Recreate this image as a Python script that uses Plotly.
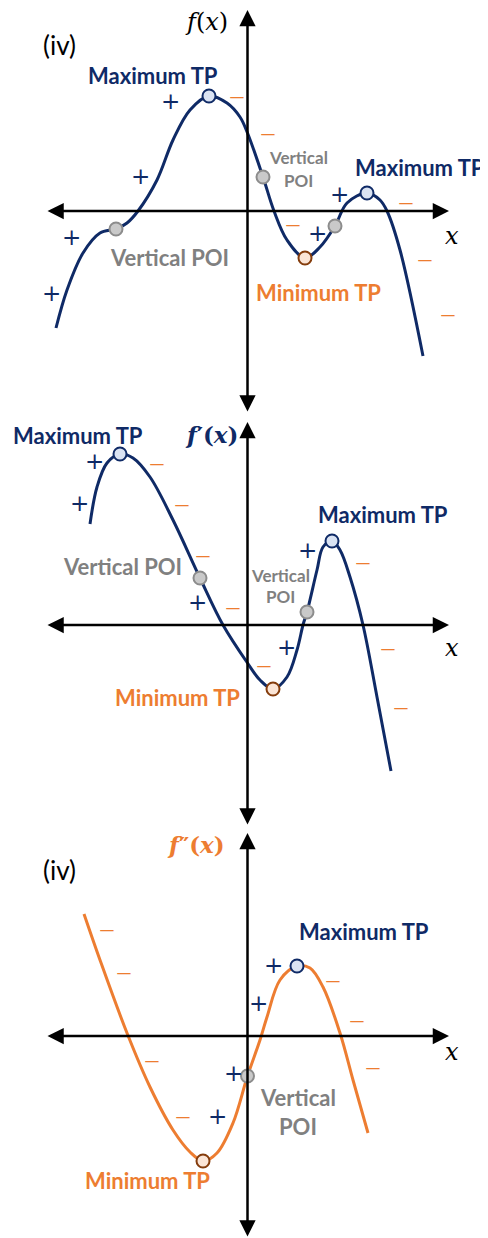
import plotly.graph_objects as go

# ---------------- data (units: axis units, origin at axes crossing) -------------
# Panel 1: f(x)
f_x = [-19.15, -18.05, -16.45, -14.75, -13.15, -12.05, -10.95, -9.05, -7.45, -5.75,
       -3.85, -2.05, -0.75, 0.0, 1.55, 2.65, 3.95, 5.75, 7.25, 8.75, 9.95, 11.95,
       13.25, 13.95, 15.25, 17.55]
f_y = [-11.7, -7.9, -4.2, -2.2, -1.8, -1.2, 0.0, 3.1, 7.1, 10.1,
       11.5, 10.8, 9.4, 7.8, 3.4, 0.0, -2.9, -4.7, -3.6, -1.5, 0.8, 1.8,
       1.1, 0.0, -3.9, -14.5]
f_max_x = [-3.85, 11.95]
f_max_y = [11.5, 1.8]
f_poi_x = [-13.15, 1.55, 8.75]
f_poi_y = [-1.8, 3.4, -1.5]
f_min_x = [5.75]
f_min_y = [-4.7]

# Panel 2: f'(x)
d1_x = [-15.75, -15.05, -14.05, -12.75, -11.45, -9.75, -7.45, -4.75, -2.45, 0.0,
        1.25, 2.55, 3.95, 4.95, 5.55, 5.95, 6.95, 7.55, 8.45, 9.25, 10.25, 11.55,
        12.95, 14.35]
d1_y = [10.1, 13.8, 16.2, 17.1, 16.7, 14.8, 10.5, 4.7, 0.0, -3.8,
        -5.5, -6.4, -5.2, -2.5, 0.0, 1.3, 5.5, 7.8, 8.4, 7.5, 4.8, 0.0,
        -7.2, -14.6]
d1_max_x = [-12.75, 8.45]
d1_max_y = [17.1, 8.4]
d1_poi_x = [-4.75, 5.95]
d1_poi_y = [4.7, 1.3]
d1_min_x = [2.55]
d1_min_y = [-6.4]

# Panel 3: f''(x)
d2_x = [-16.35, -14.75, -12.05, -9.75, -7.45, -5.75, -4.45, -3.05, -1.45, 0.0,
        1.25, 1.95, 3.25, 4.95, 6.25, 7.55, 9.25, 10.55, 12.05]
d2_y = [12.2, 7.6, 0.3, -5.1, -9.4, -11.6, -12.5, -11.7, -8.7, -4.0,
        -0.4, 1.9, 5.6, 7.0, 6.8, 4.9, 0.3, -4.4, -9.7]
d2_max_x = [4.95]
d2_max_y = [7.0]
d2_poi_x = [0.0]
d2_poi_y = [-4.0]
d2_min_x = [-4.45]
d2_min_y = [-12.5]

# ---------------- styles ----------------
NAVY = "#0f2a66"
ORANGE = "#ED7D31"
GREY = "#808080"
LABEL_FONT = "Lato"
BIG = 22
SMALL = 17

fig = go.Figure()


def add_curve(xs, ys, color, xa, ya):
    fig.add_trace(go.Scatter(x=xs, y=ys, mode="lines",
                             line=dict(color=color, width=3, shape="spline", smoothing=1.0),
                             xaxis=xa, yaxis=ya, hoverinfo="skip", showlegend=False))


def add_points(xs, ys, fill, border, xa, ya):
    fig.add_trace(go.Scatter(x=xs, y=ys, mode="markers",
                             marker=dict(size=13, color=fill, line=dict(color=border, width=2)),
                             xaxis=xa, yaxis=ya, hoverinfo="skip", showlegend=False))


panels = [
    ("x", "y", f_x, f_y, NAVY, f_max_x, f_max_y, f_poi_x, f_poi_y, f_min_x, f_min_y),
    ("x2", "y2", d1_x, d1_y, NAVY, d1_max_x, d1_max_y, d1_poi_x, d1_poi_y, d1_min_x, d1_min_y),
    ("x3", "y3", d2_x, d2_y, ORANGE, d2_max_x, d2_max_y, d2_poi_x, d2_poi_y, d2_min_x, d2_min_y),
]

for xa, ya, cx, cy, col, mx, my, px, py, nx, ny in panels:
    add_curve(cx, cy, col, xa, ya)
    add_points(mx, my, "#dae3f3", "#0f2a66", xa, ya)
    add_points(px, py, "#c9c9c9", "#8c8c8c", xa, ya)
    add_points(nx, ny, "#fbe5d6", "#843c0c", xa, ya)

annotations = []


def axis_arrows(xr, yr, top, bottom):
    annotations.append(dict(x=20.15, y=0, ax=-20.15, ay=0, xref=xr, yref=yr, axref=xr, ayref=yr,
                            text="", showarrow=True, arrowhead=2, startarrowhead=2,
                            arrowside="end+start", arrowsize=1.3, startarrowsize=1.3,
                            arrowwidth=2.5, arrowcolor="black"))
    annotations.append(dict(x=0, y=top, ax=0, ay=bottom, xref=xr, yref=yr, axref=xr, ayref=yr,
                            text="", showarrow=True, arrowhead=2, startarrowhead=2,
                            arrowside="end+start", arrowsize=1.3, startarrowsize=1.3,
                            arrowwidth=2.5, arrowcolor="black"))


def txt(xr, yr, x, y, s, color, size, family=LABEL_FONT, bold=False):
    if bold:
        s = "<b>" + s + "</b>"
    annotations.append(dict(x=x, y=y, xref=xr, yref=yr, text=s, showarrow=False,
                            font=dict(color=color, size=size, family=family),
                            xanchor="center", yanchor="middle"))


def plus(xr, yr, x, y):
    txt(xr, yr, x, y, "+", NAVY, 23, family="DejaVu Sans")


def minus(xr, yr, x, y):
    txt(xr, yr, x, y, "—", ORANGE, 20, family="Lato")


# ---- panel 1 ----
axis_arrows("x", "y", 20.1, -20.2)
for (x, y) in [(-7.75, 11.0), (-10.75, 3.5), (-17.65, -2.6), (-19.65, -8.2), (9.15, 1.7), (6.95, -2.2)]:
    plus("x", "y", x, y)
for (x, y) in [(-1.05, 11.6), (2.05, 7.9), (4.55, -1.2), (15.85, 1.0), (17.75, -4.7), (20.05, -10.2)]:
    minus("x", "y", x, y)
txt("x", "y", -9.45, 13.6, "Maximum TP", NAVY, BIG, bold=True)
txt("x", "y", -7.85, -4.6, "Vertical POI", GREY, BIG, bold=True)
txt("x", "y", 5.05, 5.4, "Vertical", GREY, SMALL, bold=True)
txt("x", "y", 5.05, 3.1, "POI", GREY, SMALL, bold=True)
txt("x", "y", 17.2, 4.4, "Maximum TP", NAVY, BIG, bold=True)
txt("x", "y", 7.05, -8.1, "Minimum TP", ORANGE, BIG, bold=True)
txt("x", "y", -18.85, 16.6, "(iv)", "black", 26)
txt("x", "y", -4.15, 18.9, "<i>f</i>(<i>x</i>)", "black", 24, family="DejaVu Serif")
txt("x", "y", 20.45, -2.5, "<i>x</i>", "black", 24, family="DejaVu Serif")

# ---- panel 2 ----
axis_arrows("x2", "y2", 20.3, -20.1)
for (x, y) in [(-15.35, 16.4), (-16.85, 12.2), (-5.05, 2.3), (3.85, -2.2), (5.95, 7.5)]:
    plus("x2", "y2", x, y)
for (x, y) in [(-9.05, 16.3), (-6.55, 12.2), (-4.45, 7.1), (-1.45, 1.9), (1.65, -3.9),
               (11.55, 6.4), (14.05, -2.2), (15.35, -8.1)]:
    minus("x2", "y2", x, y)
txt("x2", "y2", -16.95, 18.9, "Maximum TP", NAVY, BIG, bold=True)
txt("x2", "y2", -3.65, 19.0, "<b><i>f</i>′(<i>x</i>)</b>", NAVY, 23, family="DejaVu Serif")
txt("x2", "y2", -12.55, 5.8, "Vertical POI", GREY, BIG, bold=True)
txt("x2", "y2", 3.25, 4.9, "Vertical", GREY, SMALL, bold=True)
txt("x2", "y2", 3.25, 2.8, "POI", GREY, SMALL, bold=True)
txt("x2", "y2", 13.55, 11.0, "Maximum TP", NAVY, BIG, bold=True)
txt("x2", "y2", -7.05, -7.3, "Minimum TP", ORANGE, BIG, bold=True)
txt("x2", "y2", 20.45, -2.3, "<i>x</i>", "black", 24, family="DejaVu Serif")

# ---- panel 3 ----
axis_arrows("x3", "y3", 20.3, -20.2)
for (x, y) in [(2.55, 7.1), (1.05, 3.3), (-1.45, -3.7), (-3.05, -8.0)]:
    plus("x3", "y3", x, y)
for (x, y) in [(-14.05, 10.8), (-12.35, 6.5), (-9.55, -2.3), (-6.45, -7.9), (8.55, 5.7),
               (10.95, 1.7), (12.55, -3.0)]:
    minus("x3", "y3", x, y)
txt("x3", "y3", -18.85, 16.6, "(iv)", "black", 26)
txt("x3", "y3", -5.15, 19.2, "<b><i>f</i>″(<i>x</i>)</b>", ORANGE, 23, family="DejaVu Serif")
txt("x3", "y3", 11.65, 10.5, "Maximum TP", NAVY, BIG, bold=True)
txt("x3", "y3", 5.05, -6.1, "Vertical", GREY, BIG, bold=True)
txt("x3", "y3", 5.05, -9.0, "POI", GREY, BIG, bold=True)
txt("x3", "y3", -10.05, -14.4, "Minimum TP", ORANGE, BIG, bold=True)
txt("x3", "y3", 20.45, -1.6, "<i>x</i>", "black", 24, family="DejaVu Serif")

# The page body has an 8px margin, so the figure is 8px smaller and its axis
# ranges are chosen so the content lands where it should in the 488x1238 window.
W, H = 480.0, 1230.0
hidden = dict(visible=False, showgrid=False, zeroline=False, fixedrange=True)
fig.update_layout(
    width=int(W), height=int(H),
    margin=dict(l=0, r=0, t=0, b=0),
    paper_bgcolor="white", plot_bgcolor="rgba(0,0,0,0)",
    showlegend=False,
    annotations=annotations,
    xaxis=dict(range=[-23.95, 24.05], domain=[0, 1], anchor="y", **hidden),
    xaxis2=dict(range=[-23.95, 24.05], domain=[0, 1], anchor="y2", **hidden),
    xaxis3=dict(range=[-23.95, 24.05], domain=[0, 1], anchor="y3", **hidden),
    yaxis=dict(range=[-20.7, 20.3], domain=[1 - 410 / H, 1], anchor="x", **hidden),
    yaxis2=dict(range=[-20.4, 20.7], domain=[1 - 821 / H, 1 - 410 / H], anchor="x2", **hidden),
    yaxis3=dict(range=[-20.2, 20.7], domain=[0, 1 - 821 / H], anchor="x3", **hidden),
)

fig.write_html("out.html")
